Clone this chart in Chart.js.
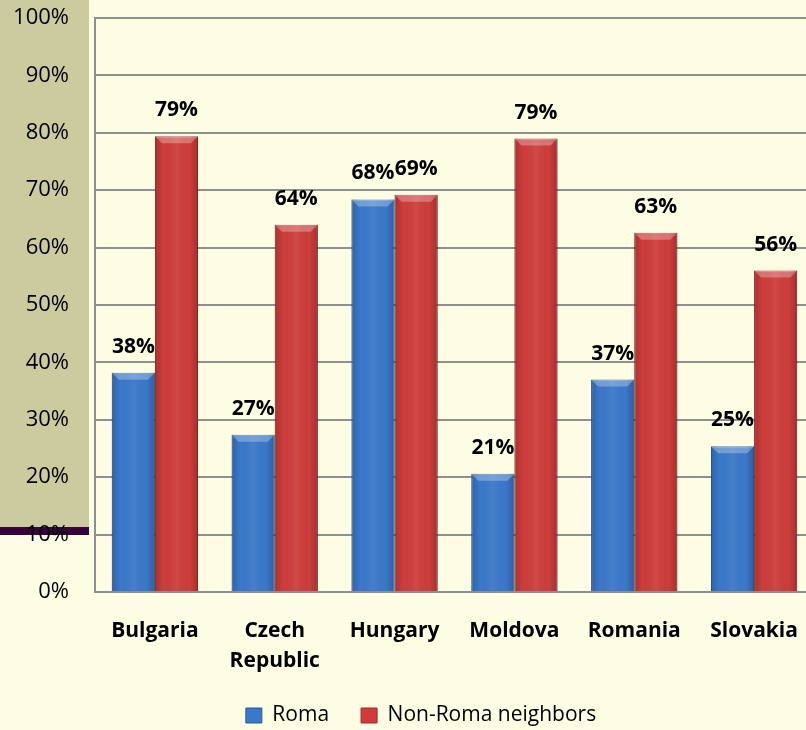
<!DOCTYPE html>
<html>
<head>
<meta charset="utf-8">
<script src="https://cdn.jsdelivr.net/npm/chart.js@4"></script>
<style>
html,body{margin:0;padding:0;background:#fdfde3;overflow:hidden;}
#wrap{position:relative;width:806px;height:730px;overflow:hidden;}
#panel{position:absolute;left:0;top:0;width:89px;height:527px;background:#cccba0;}
#stripe{position:absolute;left:0;top:527px;width:89px;height:8px;background:#35043c;}
#box{position:absolute;left:0;top:0;width:814px;height:736px;}
</style>
</head>
<body>
<div id="wrap"><div id="panel"></div><div id="stripe"></div><div id="box"><canvas id="c"></canvas></div></div>
<script>
// data
const countries=['Bulgaria',['Czech','Republic'],'Hungary','Moldova','Romania','Slovakia'];
const roma=[38.2,27.4,68.4,20.6,37,25.4];
const nonRoma=[79.4,64,69.2,79,62.6,56];
const seriesNames=['Roma','Non-Roma neighbors'];

const FONT='"Open Sans", "Noto Sans", sans-serif';
const GRID='#8f8f8f';

// 3d-ish bevel on every bar
const bevel={
  id:'bevel',
  afterDatasetsDraw(chart){
    const ctx=chart.ctx;
    chart.data.datasets.forEach((ds,i)=>{
      chart.getDatasetMeta(i).data.forEach(el=>{
        const l=el.x-el.width/2, r=el.x+el.width/2, t=el.y, b=el.base, d=7;
        ctx.save();
        const g=ctx.createLinearGradient(l,0,r,0);
        g.addColorStop(0,'rgba(0,0,0,0.18)');
        g.addColorStop(0.2,'rgba(0,0,0,0)');
        g.addColorStop(0.5,'rgba(255,255,255,0.06)');
        g.addColorStop(0.8,'rgba(0,0,0,0)');
        g.addColorStop(1,'rgba(0,0,0,0.22)');
        ctx.fillStyle=g;
        ctx.fillRect(l,t,r-l,b-t);
        ctx.fillStyle='rgba(255,255,255,0.28)';
        ctx.beginPath();
        ctx.moveTo(l,t);ctx.lineTo(r,t);ctx.lineTo(r-d,t+d);ctx.lineTo(l+d,t+d);ctx.closePath();
        ctx.fill();
        ctx.restore();
      });
    });
  }
};

// percentage labels above bars
const valueLabels={
  id:'valueLabels',
  afterDatasetsDraw(chart){
    const ctx=chart.ctx;
    ctx.save();
    ctx.font='bold 21px '+FONT;
    ctx.fillStyle='#000';
    ctx.textAlign='center';
    ctx.textBaseline='middle';
    chart.data.datasets.forEach((ds,i)=>{
      chart.getDatasetMeta(i).data.forEach((el,j)=>{
        ctx.fillText(Math.round(ds.data[j])+'%',el.x,el.y-26);
      });
    });
    ctx.restore();
  }
};

// let tick labels spill outside their scale boxes instead of being clipped
const noLabelClip={
  id:'noLabelClip',
  afterLayout(chart){
    chart.scales.y.left=0;
    chart.scales.x.bottom=chart.height;
  }
};

new Chart(document.getElementById('c'),{
  type:'bar',
  data:{
    labels:countries,
    datasets:[
      {label:seriesNames[0],data:roma,backgroundColor:'#3b78c9',borderColor:'#2a5a9e',borderWidth:1},
      {label:seriesNames[1],data:nonRoma,backgroundColor:'#cd3d3d',borderColor:'#9c2a2a',borderWidth:1}
    ]
  },
  plugins:[bevel,valueLabels,noLabelClip],
  options:{
    responsive:true,
    maintainAspectRatio:false,
    animation:false,
    layout:{padding:{left:28,right:0,top:18,bottom:0}},
    datasets:{bar:{categoryPercentage:0.72,barPercentage:1}},
    scales:{
      x:{
        grid:{display:false},
        border:{display:true,color:GRID,width:2},
        ticks:{color:'#000',font:{family:FONT,size:21,weight:'bold',lineHeight:30/21},padding:16,maxRotation:0,autoSkip:false},
        afterFit(s){s.height=81;}
      },
      y:{
        min:0,max:100,
        grid:{color:GRID,lineWidth:2,drawTicks:true,tickLength:26,tickColor:'rgba(0,0,0,0)'},
        border:{display:true,color:GRID,width:2},
        ticks:{stepSize:10,color:'#000',font:{family:FONT,size:22},padding:0,callback:v=>v+'%'},
        afterFit(s){s.width=67;}
      }
    },
    plugins:{
      legend:{
        position:'bottom',
        labels:{color:'#000',font:{family:FONT,size:21},boxWidth:16,boxHeight:15,padding:32}
      },
      tooltip:{enabled:false}
    }
  }
});
</script>
</body>
</html>
